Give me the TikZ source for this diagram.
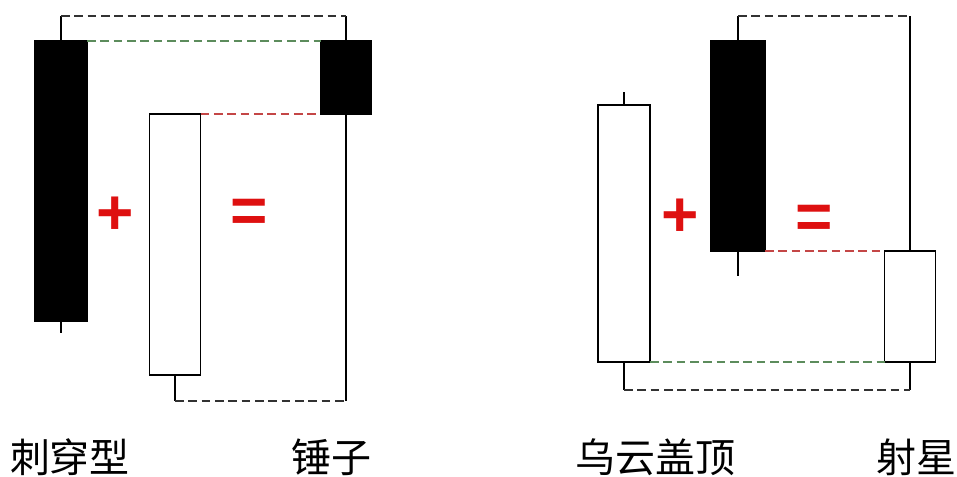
\documentclass[tikz,border=0pt]{standalone}
\usepackage{fontspec}
\usepackage{tikz}
\usetikzlibrary{calc}
\newfontfamily\cjk{Noto Sans CJK SC}
\newfontfamily\signfont{Liberation Sans}
\definecolor{signred}{RGB}{222,16,16}
\definecolor{dashgreen}{RGB}{92,140,92}
\definecolor{dashred}{RGB}{196,70,70}
\definecolor{dashgray}{RGB}{50,50,50}
\tikzset{
    bear/.style={draw=black, fill=black, line width=1.4pt, inner sep=0pt, outer sep=0pt},
    bull/.style={draw=black, fill=white, line width=1.4pt, inner sep=0pt, outer sep=0pt},
    wick/.style={draw=black, line width=1.4pt},
    guideline/.style={line width=1.6pt, dash pattern=on 6.5pt off 3.5pt},
    sign/.style={text=signred, font=\signfont\bfseries\fontsize{48}{48}\selectfont, inner sep=0pt},
    cjktext/.style={font=\cjk\fontsize{30}{30}\selectfont, inner sep=0pt}
}

\begin{document}
\begin{tikzpicture}[x=0.75pt,y=0.75pt,yscale=-1,xscale=1]
        \useasboundingbox (0,0) rectangle (957,477);

        %Shape: Candles, piercing + hammer
        \node[bear, minimum width=39pt, minimum height=210pt] (c1) at (61,181) {};
        \node[bull, minimum width=38.25pt, minimum height=195.75pt] (c2) at (175,244.5) {};
        \node[bear, minimum width=38.25pt, minimum height=54.75pt] (c3) at (346,77.5) {};
        \coordinate (c1hi) at (61,16);
        \coordinate (c1lo) at (61,333);
        \coordinate (c2lo) at (175,401);
        \coordinate (c3hi) at (346,16);
        \coordinate (c3lo) at (346,401);

        %Shape: Candles, dark cloud + shooting star
        \node[bull, minimum width=39pt, minimum height=192.75pt] (d1) at (624,233.5) {};
        \node[bear, minimum width=40.5pt, minimum height=157.5pt] (d2) at (738,146) {};
        \node[bull, minimum width=38.25pt, minimum height=83.25pt] (d3) at (910,306.5) {};
        \coordinate (d1hi) at (624,92);
        \coordinate (d1lo) at (624,390);
        \coordinate (d2hi) at (738,16);
        \coordinate (d2lo) at (738,276);
        \coordinate (d3hi) at (910,16);
        \coordinate (d3lo) at (910,390);

        %Straight Lines: wicks
        \draw[wick] (c1.north) -- (c1hi) (c1.south) -- (c1lo);
        \draw[wick] (c2.south) -- (c2lo);
        \draw[wick] (c3.north) -- (c3hi) (c3.south) -- (c3lo);
        \draw[wick] (d1.north) -- (d1hi) (d1.south) -- (d1lo);
        \draw[wick] (d2.north) -- (d2hi) (d2.south) -- (d2lo);
        \draw[wick] (d3.north) -- (d3hi) (d3.south) -- (d3lo);

        %Straight Lines: dashed guides
        \draw[guideline, dashgray] (c1hi) -- (c3hi);
        \draw[guideline, dashgreen] (c1.north east) -- (c3.north west);
        \draw[guideline, dashred] (c2.north east) -- (c3.south west);
        \draw[guideline, dashgray] (c2lo) -- (c3lo);
        \draw[guideline, dashgray] (d2hi) -- (d3hi);
        \draw[guideline, dashred] (d2.south east) -- (d3.north west);
        \draw[guideline, dashgreen] (d1.south east) -- (d3.south west);
        \draw[guideline, dashgray] (d1lo) -- (d3lo);

        % Text Node
        \node[sign] (plusa) at (115.5,216) {+};
        % Text Node
        \node[sign] (equala) at (249.5,216) {=};
        % Text Node
        \node[sign] (plusb) at (680,218) {+};
        % Text Node
        \node[sign] (equalb) at (814,222) {=};

        % Text Node
        \node[cjktext] (piercing) at (70,457) {刺穿型};
        % Text Node
        \node[cjktext] (hammer) at (331,457) {锤子};
        % Text Node
        \node[cjktext] (darkcloud) at (655,457) {乌云盖顶};
        % Text Node
        \node[cjktext] (shootstar) at (916,457) {射星};

\end{tikzpicture}
\end{document}
